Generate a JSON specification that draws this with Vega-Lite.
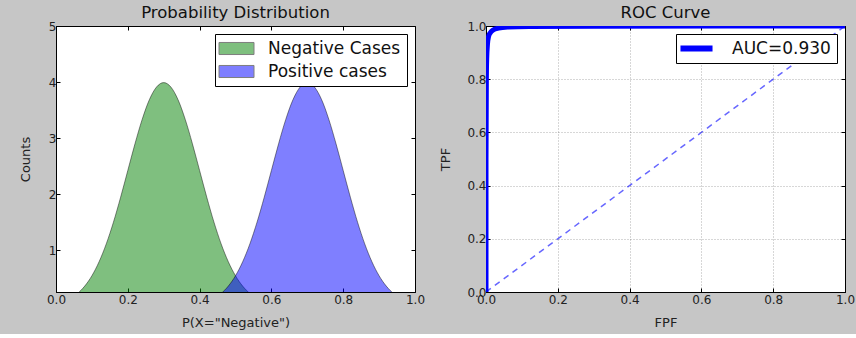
{
  "$schema": "https://vega.github.io/schema/vega-lite/v6.json",
  "background": "#c6c6c6",
  "padding": {"left": 18, "top": 4, "right": 8, "bottom": 4},
  "spacing": 71,
  "bounds": "flush",
  "config": {
    "font": "DejaVu Sans",
    "view": {"stroke": "#000", "strokeWidth": 1, "fill": "#fff"},
    "axis": {"labelFont": "DejaVu Sans", "titleFont": "DejaVu Sans", "labelFontSize": 12, "titleFontSize": 13, "labelColor": "#222", "titleColor": "#222", "titleFontWeight": "normal", "domainColor": "#000", "tickColor": "#000", "tickSize": -4, "labelPadding": 4, "labelFlush": false, "labelOverlap": false},
    "title": {"font": "DejaVu Sans", "fontSize": 16.5, "fontWeight": "normal", "color": "#111", "offset": -1},
    "legend": {"labelFont": "DejaVu Sans", "labelColor": "#111", "strokeColor": "#000", "fillColor": "#fff", "orient": "top-right", "offset": 8, "title": null}
  },
  "resolve": {"scale": {"color": "independent"}, "legend": {"color": "independent"}},
  "hconcat": [
    {
      "width": 359,
      "height": 266,
      "title": "Probability Distribution",
      "data": {"values": [
        {"x": 0.00, "y": 0.044, "series": "Negative Cases"},
        {"x": 0.02, "y": 0.079, "series": "Negative Cases"},
        {"x": 0.04, "y": 0.136, "series": "Negative Cases"},
        {"x": 0.06, "y": 0.224, "series": "Negative Cases"},
        {"x": 0.08, "y": 0.355, "series": "Negative Cases"},
        {"x": 0.10, "y": 0.540, "series": "Negative Cases"},
        {"x": 0.12, "y": 0.790, "series": "Negative Cases"},
        {"x": 0.14, "y": 1.109, "series": "Negative Cases"},
        {"x": 0.16, "y": 1.497, "series": "Negative Cases"},
        {"x": 0.18, "y": 1.942, "series": "Negative Cases"},
        {"x": 0.20, "y": 2.420, "series": "Negative Cases"},
        {"x": 0.22, "y": 2.897, "series": "Negative Cases"},
        {"x": 0.24, "y": 3.332, "series": "Negative Cases"},
        {"x": 0.26, "y": 3.683, "series": "Negative Cases"},
        {"x": 0.28, "y": 3.910, "series": "Negative Cases"},
        {"x": 0.30, "y": 3.989, "series": "Negative Cases"},
        {"x": 0.32, "y": 3.910, "series": "Negative Cases"},
        {"x": 0.34, "y": 3.683, "series": "Negative Cases"},
        {"x": 0.36, "y": 3.332, "series": "Negative Cases"},
        {"x": 0.38, "y": 2.897, "series": "Negative Cases"},
        {"x": 0.40, "y": 2.420, "series": "Negative Cases"},
        {"x": 0.42, "y": 1.942, "series": "Negative Cases"},
        {"x": 0.44, "y": 1.497, "series": "Negative Cases"},
        {"x": 0.46, "y": 1.109, "series": "Negative Cases"},
        {"x": 0.48, "y": 0.790, "series": "Negative Cases"},
        {"x": 0.50, "y": 0.540, "series": "Negative Cases"},
        {"x": 0.52, "y": 0.355, "series": "Negative Cases"},
        {"x": 0.54, "y": 0.224, "series": "Negative Cases"},
        {"x": 0.56, "y": 0.136, "series": "Negative Cases"},
        {"x": 0.58, "y": 0.079, "series": "Negative Cases"},
        {"x": 0.60, "y": 0.044, "series": "Negative Cases"},
        {"x": 0.64, "y": 0.012, "series": "Negative Cases"},
        {"x": 0.70, "y": 0.001, "series": "Negative Cases"},
        {"x": 1.00, "y": 0.0, "series": "Negative Cases"},
        {"x": 0.00, "y": 0.0, "series": "Positive cases"},
        {"x": 0.30, "y": 0.001, "series": "Positive cases"},
        {"x": 0.36, "y": 0.012, "series": "Positive cases"},
        {"x": 0.40, "y": 0.044, "series": "Positive cases"},
        {"x": 0.42, "y": 0.079, "series": "Positive cases"},
        {"x": 0.44, "y": 0.136, "series": "Positive cases"},
        {"x": 0.46, "y": 0.224, "series": "Positive cases"},
        {"x": 0.48, "y": 0.355, "series": "Positive cases"},
        {"x": 0.50, "y": 0.540, "series": "Positive cases"},
        {"x": 0.52, "y": 0.790, "series": "Positive cases"},
        {"x": 0.54, "y": 1.109, "series": "Positive cases"},
        {"x": 0.56, "y": 1.497, "series": "Positive cases"},
        {"x": 0.58, "y": 1.942, "series": "Positive cases"},
        {"x": 0.60, "y": 2.420, "series": "Positive cases"},
        {"x": 0.62, "y": 2.897, "series": "Positive cases"},
        {"x": 0.64, "y": 3.332, "series": "Positive cases"},
        {"x": 0.66, "y": 3.683, "series": "Positive cases"},
        {"x": 0.68, "y": 3.910, "series": "Positive cases"},
        {"x": 0.70, "y": 3.989, "series": "Positive cases"},
        {"x": 0.72, "y": 3.910, "series": "Positive cases"},
        {"x": 0.74, "y": 3.683, "series": "Positive cases"},
        {"x": 0.76, "y": 3.332, "series": "Positive cases"},
        {"x": 0.78, "y": 2.897, "series": "Positive cases"},
        {"x": 0.80, "y": 2.420, "series": "Positive cases"},
        {"x": 0.82, "y": 1.942, "series": "Positive cases"},
        {"x": 0.84, "y": 1.497, "series": "Positive cases"},
        {"x": 0.86, "y": 1.109, "series": "Positive cases"},
        {"x": 0.88, "y": 0.790, "series": "Positive cases"},
        {"x": 0.90, "y": 0.540, "series": "Positive cases"},
        {"x": 0.92, "y": 0.355, "series": "Positive cases"},
        {"x": 0.94, "y": 0.224, "series": "Positive cases"},
        {"x": 0.96, "y": 0.136, "series": "Positive cases"},
        {"x": 0.98, "y": 0.079, "series": "Positive cases"},
        {"x": 1.00, "y": 0.044, "series": "Positive cases"}
      ]},
      "layer": [
        {
          "mark": {"type": "area", "clip": true, "interpolate": "monotone", "fillOpacity": 0.5, "stroke": "#000", "strokeOpacity": 0.45, "strokeWidth": 1},
          "encoding": {
            "x": {"field": "x", "type": "quantitative", "scale": {"domain": [0, 1], "nice": false}, "axis": {"title": "P(X=\"Negative\")", "values": [0, 0.2, 0.4, 0.6, 0.8, 1.0], "format": ".1f", "grid": false, "labelPadding": 6, "titlePadding": 11}},
            "y": {"field": "y", "type": "quantitative", "scale": {"domain": [0.25, 5], "nice": false, "zero": false}, "axis": {"title": "Counts", "values": [1, 2, 3, 4, 5], "grid": false, "labelPadding": 4, "titlePadding": 16}},
            "y2": {"datum": 0},
            "color": {"field": "series", "type": "nominal", "scale": {"domain": ["Negative Cases", "Positive cases"], "range": ["#008000", "#0000ff"]},
              "legend": {"symbolType": "M-2.5,-0.86L2.5,-0.86L2.5,0.86L-2.5,0.86Z", "symbolSize": 196, "symbolOffset": 7, "symbolOpacity": 0.5, "symbolStrokeColor": "#000", "symbolStrokeWidth": 1, "labelFontSize": 17, "padding": 6, "rowPadding": 5, "labelOffset": 23}}
          }
        },
        {
          "mark": {"type": "point", "opacity": 0},
          "encoding": {
            "x": {"field": "x", "type": "quantitative", "axis": {"orient": "top", "labels": false, "title": null, "domain": false, "values": [0, 0.2, 0.4, 0.6, 0.8, 1.0], "grid": false}},
            "y": {"field": "y", "type": "quantitative", "axis": {"orient": "right", "labels": false, "title": null, "domain": false, "values": [1, 2, 3, 4, 5], "grid": false}}
          }
        }
      ],
      "resolve": {"axis": {"x": "independent", "y": "independent"}}
    },
    {
      "width": 359,
      "height": 266,
      "title": "ROC Curve",
      "layer": [
        {
          "data": {"values": [{"fpf": 0, "tpf": 0}, {"fpf": 1, "tpf": 1}]},
          "mark": {"type": "line", "clip": true, "color": "#0000ff", "opacity": 0.6, "strokeWidth": 1.5, "strokeDash": [6, 5]},
          "encoding": {
            "x": {"field": "fpf", "type": "quantitative", "scale": {"domain": [0, 1], "nice": false}, "axis": {"title": "FPF", "values": [0, 0.2, 0.4, 0.6, 0.8, 1.0], "format": ".1f", "grid": true, "gridColor": "#000", "gridOpacity": 0.45, "gridDash": [1, 2], "gridWidth": 0.7, "labelPadding": 6, "titlePadding": 11}},
            "y": {"field": "tpf", "type": "quantitative", "scale": {"domain": [0, 1], "nice": false}, "axis": {"title": "TPF", "values": [0, 0.2, 0.4, 0.6, 0.8, 1.0], "format": ".1f", "grid": true, "gridColor": "#000", "gridOpacity": 0.45, "gridDash": [1, 2], "gridWidth": 0.7, "labelPadding": 4, "titlePadding": 14}}
          }
        },
        {
          "data": {"values": [
            {"fpf": 0, "tpf": 0, "label": "AUC=0.930"},
            {"fpf": 0, "tpf": 0.5, "label": "AUC=0.930"},
            {"fpf": 0.001, "tpf": 0.8, "label": "AUC=0.930"},
            {"fpf": 0.002, "tpf": 0.88, "label": "AUC=0.930"},
            {"fpf": 0.004, "tpf": 0.93, "label": "AUC=0.930"},
            {"fpf": 0.007, "tpf": 0.96, "label": "AUC=0.930"},
            {"fpf": 0.012, "tpf": 0.975, "label": "AUC=0.930"},
            {"fpf": 0.02, "tpf": 0.985, "label": "AUC=0.930"},
            {"fpf": 0.035, "tpf": 0.992, "label": "AUC=0.930"},
            {"fpf": 0.06, "tpf": 0.996, "label": "AUC=0.930"},
            {"fpf": 0.12, "tpf": 0.998, "label": "AUC=0.930"},
            {"fpf": 0.3, "tpf": 0.999, "label": "AUC=0.930"},
            {"fpf": 1, "tpf": 1, "label": "AUC=0.930"}
          ]},
          "mark": {"type": "line", "clip": true, "strokeWidth": 5, "interpolate": "monotone"},
          "encoding": {
            "x": {"field": "fpf", "type": "quantitative", "axis": null},
            "y": {"field": "tpf", "type": "quantitative", "axis": null},
            "color": {"field": "label", "type": "nominal", "scale": {"domain": ["AUC=0.930"], "range": ["#0000ff"]},
              "legend": {"symbolType": "M-2.29,-0.43L2.29,-0.43L2.29,0.43L-2.29,0.43Z", "symbolSize": 196, "symbolOffset": 6, "symbolFillColor": "#0000ff", "symbolStrokeWidth": 0, "labelFontSize": 17, "padding": 6, "labelOffset": 27}}
          }
        },
        {
          "data": {"values": [{"fpf": 0, "tpf": 0}, {"fpf": 1, "tpf": 1}]},
          "mark": {"type": "point", "opacity": 0},
          "encoding": {
            "x": {"field": "fpf", "type": "quantitative", "axis": {"orient": "top", "labels": false, "title": null, "domain": false, "values": [0, 0.2, 0.4, 0.6, 0.8, 1.0], "grid": false}},
            "y": {"field": "tpf", "type": "quantitative", "axis": {"orient": "right", "labels": false, "title": null, "domain": false, "values": [0, 0.2, 0.4, 0.6, 0.8, 1.0], "grid": false}}
          }
        }
      ],
      "resolve": {"axis": {"x": "independent", "y": "independent"}}
    }
  ]
}
